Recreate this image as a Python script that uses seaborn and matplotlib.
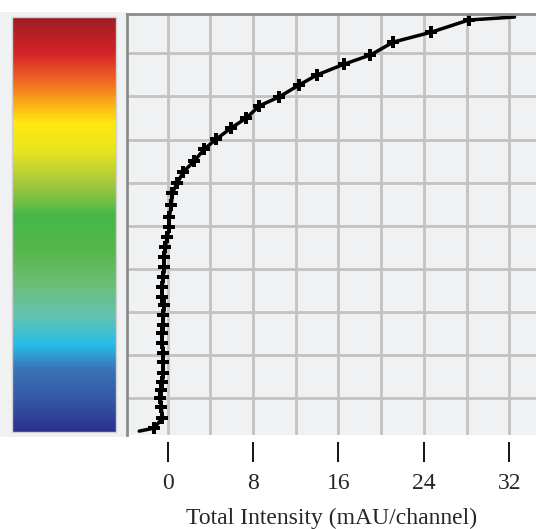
import matplotlib
matplotlib.use("Agg")
import matplotlib.pyplot as plt
import matplotlib as mpl
from matplotlib.colors import LinearSegmentedColormap
import seaborn as sns
import pandas as pd

# profile (bottom to top)
intensity = [-2.65, -1.25, -0.50, -0.59, -0.68, -0.59, -0.50, -0.40, -0.40, -0.40,
             -0.50, -0.50, -0.40, -0.40, -0.31, -0.50, -0.50, -0.40, -0.31, -0.31,
             -0.22, -0.03, 0.16, 0.16, 0.35, 0.44, 0.91, 1.47, 2.50, 3.44,
             4.56, 5.97, 7.38, 8.59, 10.47, 12.35, 14.02, 16.56, 19.00, 21.15,
             24.71, 28.18, 32.49]
position = [0.24, 0.31, 0.54, 0.80, 1.01, 1.19, 1.38, 1.59, 1.84, 2.05,
            2.29, 2.51, 2.70, 2.93, 3.16, 3.35, 3.58, 3.81, 4.04, 4.27,
            4.51, 4.74, 4.97, 5.20, 5.48, 5.76, 5.99, 6.25, 6.50, 6.78,
            7.01, 7.27, 7.50, 7.78, 7.99, 8.27, 8.50, 8.75, 8.96, 9.26,
            9.49, 9.77, 9.84]
x_ticks = [0, 8, 16, 24, 32]
x_grid = [4, 12, 20, 28]
y_grid = [1, 2, 3, 4, 5, 6, 7, 8, 9]

# colour bar stops, bottom to top
bar_colors = ["#2a2f8e", "#3454a3", "#3a72b6", "#27bde9", "#63c3b0", "#6bbd74",
              "#54b848", "#45b649", "#a6c83c", "#e8e41f", "#fde80f", "#fbb616",
              "#f36f21", "#d62128", "#9c1d22"]
bar_stops = [0.0, 0.07, 0.15, 0.21, 0.28, 0.36, 0.44, 0.52, 0.60, 0.68, 0.745,
             0.785, 0.84, 0.914, 1.0]

df = pd.DataFrame({"intensity": intensity, "position": position})

sns.set_style("white")
plt.rcParams["font.family"] = ["Liberation Serif", "DejaVu Serif"]

W, H = 536, 529
fig = plt.figure(figsize=(W / 100, H / 100), dpi=100)
fig.patch.set_facecolor("white")

# light grey band behind the colour bar
fig.patches.append(mpl.patches.Rectangle((0, 1 - 437 / H), 127 / W, (437 - 12) / H,
                                         transform=fig.transFigure, facecolor="#f0f1f2",
                                         edgecolor="none", zorder=-5))

ax = fig.add_axes([127 / W, 1 - 435 / H, (W - 127) / W, (435 - 14) / H])
ax.set_facecolor("#f0f1f2")

sns.lineplot(data=df, x="intensity", y="position", sort=False, estimator=None,
             color="black", linewidth=2.5, ax=ax)
ax.plot(df["intensity"][1:-1], df["position"][1:-1], linestyle="none",
        marker="P", markersize=9, color="black", markeredgewidth=0)

ax.set_xlim(-3.8, 34.5)
ax.set_ylim(0.15, 9.91)
ax.set_xticks(x_ticks)
ax.set_xticks(x_grid, minor=True)
ax.set_yticks(y_grid)
ax.set_yticklabels([])
ax.grid(True, which="both", color="#c2c2c2", linewidth=2)
ax.set_axisbelow(True)

for side in ["right", "bottom"]:
    ax.spines[side].set_visible(False)
for side in ["left", "top"]:
    ax.spines[side].set_color("#8c8c8c")
    ax.spines[side].set_linewidth(2)
ax.spines["bottom"].set_position(("outward", 5))

ax.tick_params(axis="x", which="major", bottom=True, direction="out", length=14.4,
               width=1.3, color="black", pad=8, labelsize=17)
ax.tick_params(axis="x", which="minor", length=0)
ax.tick_params(axis="y", length=0)
ax.set_xlabel("Total Intensity (mAU/channel)", fontsize=17, labelpad=10)
ax.set_ylabel("")

# colour bar on the left
cax = fig.add_axes([12 / W, 1 - 432 / H, (116 - 12) / W, (432 - 17) / H])
cmap = LinearSegmentedColormap.from_list("bar", list(zip(bar_stops, bar_colors)))
cb = mpl.colorbar.ColorbarBase(cax, cmap=cmap, orientation="vertical")
cb.set_ticks([])
cb.outline.set_edgecolor("#d0d0d0")
cb.outline.set_linewidth(1)

fig.savefig("out.png", dpi=100)
